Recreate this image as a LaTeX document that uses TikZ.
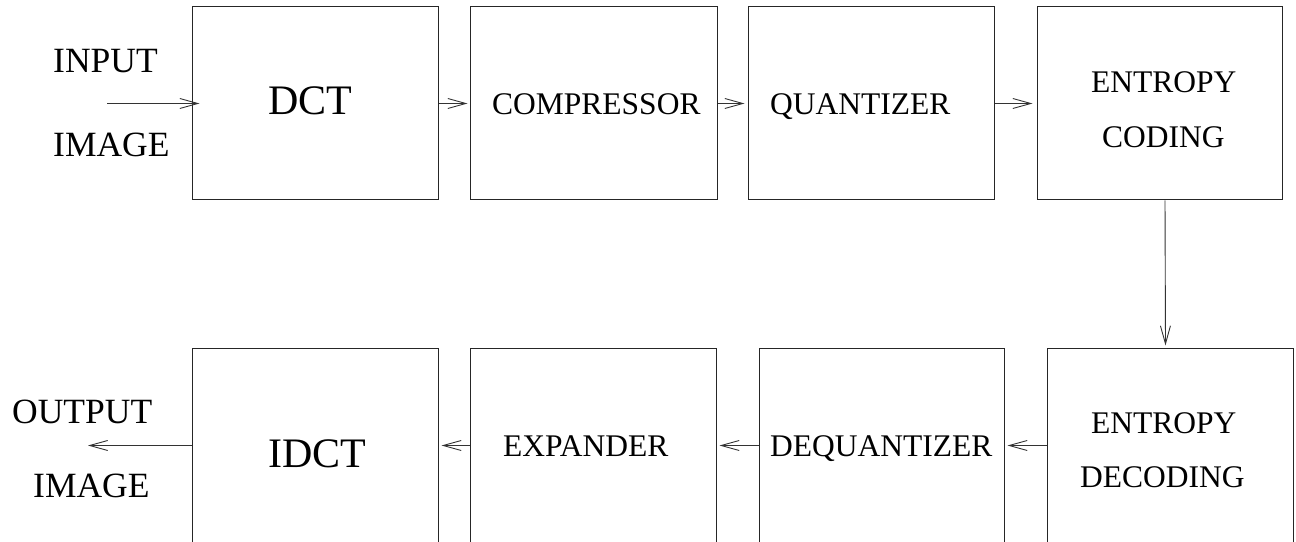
\documentclass[tikz,border=0pt]{standalone}
\usepackage{fontspec}
\setmainfont{Liberation Serif}
\usetikzlibrary{arrows.meta}
\begin{document}
\begin{tikzpicture}[x=1pt,y=1pt,
  block/.style={draw=black!85,line width=1pt,inner sep=0pt,minimum height=193pt},
  txt/.style={inner sep=0pt,anchor=base west,font=\fontsize{31.5}{36}\selectfont},
  side/.style={inner sep=0pt,anchor=base west,font=\fontsize{35.5}{40}\selectfont},
  big/.style={inner sep=0pt,anchor=base west,font=\fontsize{42}{48}\selectfont},
  flow/.style={draw=black!80,line width=0.9pt,-{Straight Barb[length=18pt,width=10pt,line width=0.9pt]}}]
\useasboundingbox (0,0) rectangle (1296,541);
\clip (0,0) rectangle (1296,541);

% encoder row
\node[block,minimum width=246pt] (dct)  at (315,437.5) {};
\node[block,minimum width=247pt] (comp) at (593.5,437.5) {};
\node[block,minimum width=246pt] (quan) at (871,437.5) {};
\node[block,minimum width=245pt] (entc) at (1159.5,437.5) {};

% decoder row
\node[block,minimum width=246pt] (idct) at (315,95.5) {};
\node[block,minimum width=246pt] (expd) at (593,95.5) {};
\node[block,minimum width=245pt] (dequ) at (881.5,95.5) {};
\node[block,minimum width=246pt] (entd) at (1170,95.5) {};

% labels
\node[side] (inT1) at (53,468) {INPUT};
\node[side] (inT2) at (53,384) {IMAGE};
\node[big]  (dctT) at (268,426) {DCT};
\node[txt]  (compT) at (492,426) {COMPRESSOR};
\node[txt]  (quanT) at (770,426) {QUANTIZER};
\node[txt]  (entcT1) at (1091,448) {ENTROPY};
\node[txt]  (entcT2) at (1102,393) {CODING};

\node[side] (outT1) at (12,117) {OUTPUT};
\node[side] (outT2) at (33,43) {IMAGE};
\node[big]  (idctT) at (268,74) {IDCT};
\node[txt]  (expdT) at (503,84) {EXPANDER};
\node[txt]  (dequT) at (770,84) {DEQUANTIZER};
\node[txt]  (entdT1) at (1091,107) {ENTROPY};
\node[txt]  (entdT2) at (1080,53) {DECODING};

% signal path
\coordinate (inS) at (107,437.5);
\coordinate (outE) at (88,95.5);
\draw[flow,shorten >=-8pt] (inS) -- (dct.west);
\draw[flow,shorten >=2pt] (dct.east) -- (comp.west);
\draw[flow,shorten >=3pt] (comp.east) -- (quan.west);
\draw[flow,shorten >=4pt] (quan.east) -- (entc.west);
\draw[flow,shorten >=3pt] ([xshift=5.5pt]entc.south) -- ([xshift=-4.5pt]entd.north);
\draw[flow,shorten >=3pt] (entd.west) -- (dequ.east);
\draw[flow,shorten >=3pt] (dequ.west) -- (expd.east);
\draw[flow,shorten >=3pt] (expd.west) -- (idct.east);
\draw[flow] (idct.west) -- (outE);
\end{tikzpicture}
\end{document}
